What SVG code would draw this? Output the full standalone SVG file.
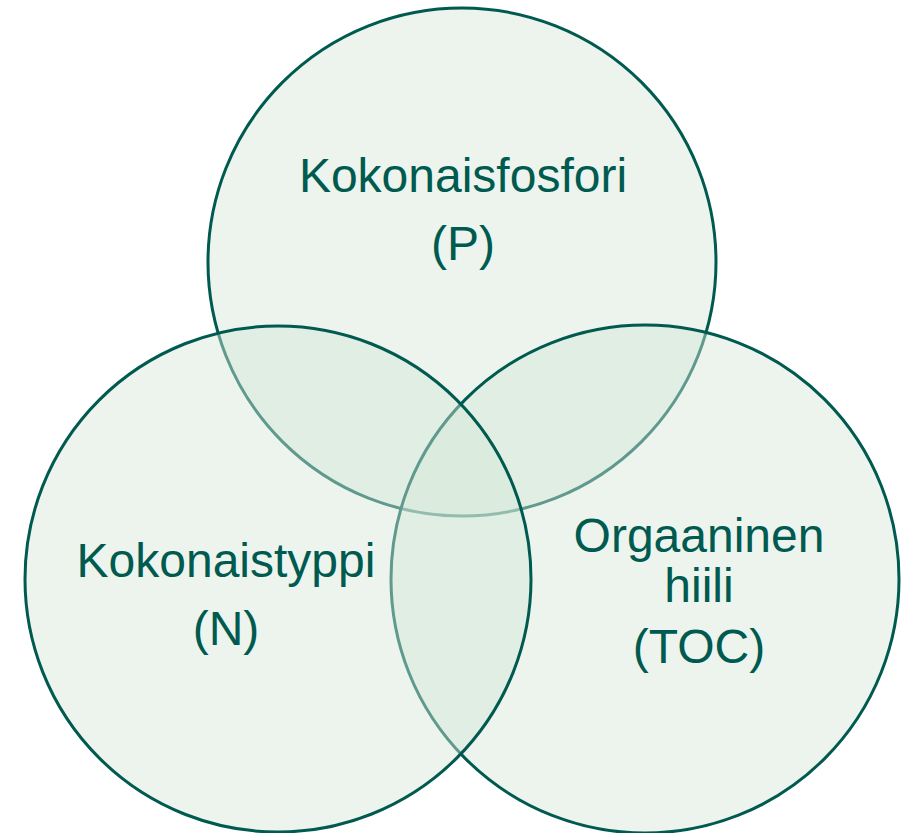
<svg xmlns="http://www.w3.org/2000/svg" width="912" height="833" viewBox="0 0 912 833">
<style>
.c{fill:#D4E6D8;fill-opacity:0.45;stroke:#005A50;stroke-width:3}
.t{font-family:"Liberation Sans",Arial,sans-serif;font-size:48px;fill:#005A50;text-anchor:middle}
</style>
<rect width="912" height="833" fill="#FFFFFF"/>
<g id="connectors"></g>
<g id="node-p">
<circle class="c" cx="462" cy="262" r="254"/>
<text class="t" x="463" y="192">Kokonaisfosfori</text>
<text class="t" x="463" y="260">(P)</text>
</g>
<g id="node-toc">
<circle class="c" cx="645" cy="579" r="254"/>
<text class="t" x="699" y="552">Orgaaninen</text>
<text class="t" x="699" y="602">hiili</text>
<text class="t" x="699" y="663">(TOC)</text>
</g>
<g id="node-n">
<circle class="c" cx="278" cy="579" r="253"/>
<text class="t" x="226" y="577">Kokonaistyppi</text>
<text class="t" x="226" y="645">(N)</text>
</g>
</svg>
